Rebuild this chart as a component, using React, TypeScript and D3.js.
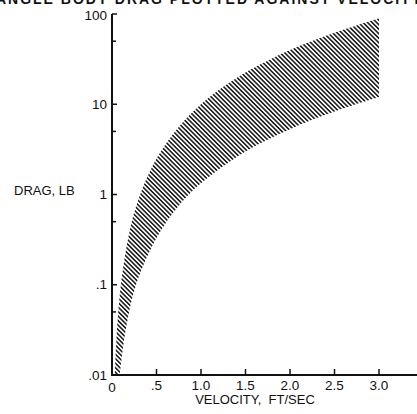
import React from "react";
import * as d3 from "d3";

const title = "ANGLE BODY DRAG PLOTTED AGAINST VELOCITY";
const xTicks = [0, 0.5, 1.0, 1.5, 2.0, 2.5, 3.0];
const xTickLabels = ["0", ".5", "1.0", "1.5", "2.0", "2.5", "3.0"];
const yMajor = [0.01, 0.1, 1, 10, 100];
const yMajorLabels = [".01", ".1", "1", "10", "100"];
const yMinor = [0.05, 0.5, 5, 50];

const upperVelocity = [0.032, 0.05, 0.1, 0.2, 0.3, 0.5, 0.75, 1.0, 1.25, 1.5, 2.0, 2.5, 3.0];
const upperDrag = [0.01, 0.025, 0.1, 0.4, 0.9, 2.5, 5.6, 10, 15.6, 22.5, 40, 62, 90];
const lowerVelocity = [0.087, 0.15, 0.27, 0.5, 0.75, 1.0, 1.5, 2.0, 2.5, 3.0];
const lowerDrag = [0.01, 0.03, 0.1, 0.33, 0.75, 1.33, 3.0, 5.3, 8.3, 12];

export default function App() {
  const W = 417, H = 414;
  const x = d3.scaleLinear().domain([0, 3]).range([112, 379]);
  const y = d3.scaleLog().domain([0.01, 100]).range([375, 14]);
  const font = "'Liberation Sans', Arial, sans-serif";

  const up: [number, number][] = upperVelocity.map((v, i) => [x(v), y(upperDrag[i])]);
  const lo: [number, number][] = lowerVelocity.map((v, i) => [x(v), y(lowerDrag[i])]).reverse() as [number, number][];
  const line = d3.line().curve(d3.curveCatmullRom.alpha(0.5));
  const upPath = line(up) as string;
  const loPath = (line(lo) as string).replace(/^M/, "L");
  const bandPath = upPath + loPath + "Z";

  return (
    <svg width={W} height={H} style={{ position: "absolute", left: 0, top: 0, background: "#fff" }}>
      <defs>
        <pattern id="hatch" patternUnits="userSpaceOnUse" width={3.2} height={3.2} patternTransform="rotate(-45)">
          <rect width={3.2} height={3.2} fill="#fff" />
          <line x1={0.8} y1={0} x2={0.8} y2={3.2} stroke="#111" strokeWidth={1.5} />
        </pattern>
      </defs>
      <rect width={W} height={H} fill="#fff" />
      <text x={-4} y={4} fontFamily={font} fontSize={14} fontWeight="bold" textLength={425} lengthAdjust="spacing" fill="#111">
        {title}
      </text>
      <path d={bandPath} fill="url(#hatch)" stroke="none" />
      {/* axes */}
      <line x1={112} y1={14} x2={112} y2={376} stroke="#111" strokeWidth={2} />
      <line x1={111} y1={375} x2={417} y2={375} stroke="#111" strokeWidth={2} />
      {yMajor.map((v) => (
        <line key={"ym" + v} x1={112} x2={117} y1={y(v)} y2={y(v)} stroke="#111" strokeWidth={1.5} />
      ))}
      {yMinor.map((v) => (
        <line key={"yn" + v} x1={112} x2={116} y1={y(v)} y2={y(v)} stroke="#111" strokeWidth={1.5} />
      ))}
      {yMajor.map((v, i) => (
        <text key={"yl" + v} x={107} y={v === 100 ? y(v) + 1 : y(v)} dy="0.35em" textAnchor="end" fontFamily={font} fontSize={13.5} fill="#111">
          {yMajorLabels[i]}
        </text>
      ))}
      {xTicks.map((v) =>
        v === 0 ? null : (
          <line key={"xt" + v} x1={x(v)} x2={x(v)} y1={375} y2={369} stroke="#111" strokeWidth={1.5} />
        )
      )}
      {xTicks.map((v, i) => (
        <text key={"xl" + v} x={x(v)} y={v === 0 ? 392 : 390} textAnchor="middle" fontFamily={font} fontSize={13.5} fill="#111">
          {xTickLabels[i]}
        </text>
      ))}
      <text x={255} y={404} textAnchor="middle" fontFamily={font} fontSize={13} fill="#111" style={{ whiteSpace: "pre" }}>
        {"VELOCITY,  FT/SEC"}
      </text>
      <text x={14} y={195} fontFamily={font} fontSize={13} fill="#111">
        DRAG, LB
      </text>
    </svg>
  );
}
